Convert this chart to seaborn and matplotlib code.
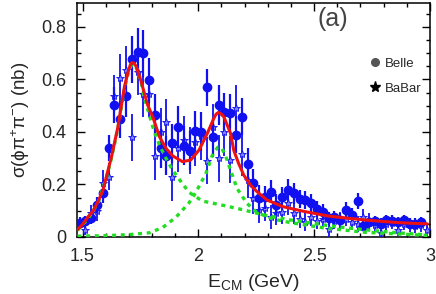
import matplotlib
matplotlib.use('Agg')
import matplotlib.pyplot as plt
import pandas as pd
import seaborn as sns
from matplotlib.lines import Line2D
from matplotlib.ticker import MultipleLocator

# Belle points (25 MeV bins)
belle_x = [1.4875, 1.5125, 1.5375, 1.5625, 1.5875, 1.6125, 1.6375, 1.6625, 1.6875, 1.7125,
           1.7375, 1.7625, 1.7875, 1.8125, 1.8375, 1.8625, 1.8875, 1.9125, 1.9375, 1.9625,
           1.9875, 2.0125, 2.0375, 2.0625, 2.0875, 2.1125, 2.1375, 2.1625, 2.1875, 2.2125,
           2.2375, 2.2625, 2.2875, 2.3125, 2.3375, 2.3625, 2.3875, 2.4125, 2.4375, 2.4625,
           2.4875, 2.5125, 2.5375, 2.5625, 2.5875, 2.6125, 2.6375, 2.6625, 2.6875, 2.7125,
           2.7375, 2.7625, 2.7875, 2.8125, 2.8375, 2.8625, 2.8875, 2.9125, 2.9375, 2.9625]
belle_y = [0.055, 0.060, 0.071, 0.122, 0.166, 0.338, 0.503, 0.448, 0.537, 0.677,
           0.706, 0.700, 0.596, 0.465, 0.338, 0.310, 0.357, 0.420, 0.348, 0.329,
           0.404, 0.401, 0.570, 0.380, 0.503, 0.477, 0.474, 0.389, 0.458, 0.278,
           0.204, 0.147, 0.151, 0.173, 0.122, 0.151, 0.179, 0.166, 0.144, 0.141,
           0.128, 0.107, 0.096, 0.071, 0.075, 0.066, 0.103, 0.084, 0.137, 0.043,
           0.058, 0.061, 0.051, 0.064, 0.062, 0.057, 0.064, 0.051, 0.051, 0.058]
belle_err = [0.020, 0.020, 0.020, 0.030, 0.035, 0.050, 0.070, 0.070, 0.080, 0.090,
             0.090, 0.090, 0.085, 0.080, 0.075, 0.075, 0.075, 0.080, 0.075, 0.075,
             0.075, 0.075, 0.070, 0.075, 0.075, 0.070, 0.070, 0.070, 0.070, 0.060,
             0.055, 0.050, 0.045, 0.045, 0.040, 0.040, 0.040, 0.040, 0.035, 0.035,
             0.035, 0.030, 0.030, 0.025, 0.025, 0.025, 0.030, 0.025, 0.030, 0.020,
             0.020, 0.020, 0.020, 0.020, 0.020, 0.020, 0.020, 0.020, 0.020, 0.020]

# BaBar points
babar_x = [1.5125, 1.5375, 1.5625, 1.5875, 1.6125, 1.6375, 1.6625, 1.6875, 1.7125, 1.7375,
           1.7625, 1.7875, 1.8125, 1.8375, 1.8625, 1.8875, 1.9125, 1.9375, 1.9625, 1.9875,
           2.0125, 2.0375, 2.0625, 2.0875, 2.1125, 2.1375, 2.1625, 2.1875, 2.2125, 2.2375,
           2.2625, 2.2875, 2.3125, 2.3375, 2.3625, 2.3875, 2.4125, 2.4375, 2.4625, 2.4875,
           2.5125, 2.5375, 2.5625, 2.5875, 2.6125, 2.6375, 2.6625, 2.6875, 2.7125, 2.7375,
           2.7625, 2.7875, 2.8125, 2.8375, 2.8625, 2.8875, 2.9125, 2.9375, 2.9625, 2.9875]
babar_y = [0.027, 0.090, 0.100, 0.205, 0.230, 0.535, 0.606, 0.637, 0.379, 0.630,
           0.546, 0.546, 0.308, 0.400, 0.437, 0.227, 0.338, 0.370, 0.330, 0.360,
           0.385, 0.290, 0.418, 0.300, 0.400, 0.295, 0.490, 0.317, 0.218, 0.147,
           0.102, 0.109, 0.076, 0.090, 0.095, 0.128, 0.090, 0.070, 0.058, 0.075,
           0.060, 0.070, 0.030, 0.060, 0.065, 0.070, 0.058, 0.050, 0.077, 0.060,
           0.045, 0.015, 0.050, 0.055, 0.027, 0.050, 0.045, 0.040, 0.045, 0.027]
babar_err = [0.020, 0.030, 0.040, 0.050, 0.050, 0.080, 0.090, 0.090, 0.090, 0.090,
             0.090, 0.090, 0.090, 0.090, 0.090, 0.090, 0.090, 0.090, 0.090, 0.090,
             0.090, 0.090, 0.090, 0.090, 0.090, 0.090, 0.090, 0.085, 0.070, 0.060,
             0.050, 0.050, 0.045, 0.045, 0.045, 0.045, 0.040, 0.035, 0.035, 0.035,
             0.030, 0.030, 0.030, 0.030, 0.030, 0.030, 0.030, 0.030, 0.030, 0.030,
             0.025, 0.025, 0.025, 0.025, 0.025, 0.025, 0.025, 0.025, 0.025, 0.025]

# total fit (red)
fit_x = [1.478, 1.500, 1.524, 1.546, 1.567, 1.589, 1.603, 1.625, 1.653, 1.681, 1.699,
         1.706, 1.713, 1.722, 1.732, 1.753, 1.781, 1.803, 1.832, 1.860, 1.889, 1.931,
         1.967, 2.003, 2.039, 2.067, 2.077, 2.086, 2.097, 2.110, 2.139, 2.153, 2.174,
         2.196, 2.225, 2.253, 2.296, 2.367, 2.453, 2.560, 2.650, 2.718, 2.800, 2.860,
         2.930, 2.989]
fit_y = [0.028, 0.048, 0.077, 0.100, 0.135, 0.180, 0.230, 0.306, 0.420, 0.573, 0.636,
         0.655, 0.664, 0.662, 0.649, 0.592, 0.503, 0.458, 0.382, 0.338, 0.309, 0.287,
         0.293, 0.331, 0.395, 0.452, 0.468, 0.474, 0.470, 0.458, 0.395, 0.330, 0.280,
         0.236, 0.198, 0.173, 0.141, 0.115, 0.098, 0.080, 0.071, 0.065, 0.059, 0.055,
         0.052, 0.050]

# first resonance component (green)
r1_x = [1.478, 1.524, 1.567, 1.603, 1.625, 1.653, 1.681, 1.699, 1.713, 1.732, 1.753,
        1.767, 1.803, 1.832, 1.860, 1.889, 1.917, 1.960, 2.017, 2.110, 2.196, 2.282,
        2.396, 2.539, 2.650, 2.750, 2.860, 2.989]
r1_y = [0.025, 0.070, 0.130, 0.225, 0.300, 0.415, 0.565, 0.630, 0.658, 0.645, 0.590,
        0.530, 0.420, 0.350, 0.300, 0.255, 0.220, 0.170, 0.137, 0.120, 0.103, 0.084,
        0.065, 0.046, 0.034, 0.025, 0.016, 0.008]

# second resonance component (green)
r2_x = [1.478, 1.600, 1.700, 1.789, 1.846, 1.903, 1.960, 1.989, 2.032, 2.060, 2.084,
        2.100, 2.117, 2.139, 2.167, 2.210, 2.253, 2.324, 2.396, 2.539, 2.718, 2.989]
r2_y = [0.003, 0.005, 0.009, 0.016, 0.036, 0.075, 0.130, 0.170, 0.240, 0.310, 0.342,
        0.340, 0.310, 0.255, 0.185, 0.128, 0.093, 0.068, 0.055, 0.035, 0.018, 0.006]

sns.set_theme(style='ticks')
plt.rcParams['font.family'] = ['Liberation Sans', 'DejaVu Sans']
plt.rcParams['mathtext.fontset'] = 'custom'
plt.rcParams['mathtext.rm'] = 'Liberation Sans'
plt.rcParams['mathtext.it'] = 'Liberation Sans'

fig = plt.figure(figsize=(4.36, 2.94), dpi=100)
ax = fig.add_axes([0.1766, 0.1939, 0.8094, 0.7959])

blue = '#1010f0'
green = '#22dd22'

ax.axhline(0.001, color=blue, lw=1.0, ls='--', zorder=1)

ax.errorbar(babar_x, babar_y, yerr=babar_err, fmt='*', ms=6, color=blue,
            mfc='#7f7fff', mec=blue, mew=0.6, elinewidth=1.3, capsize=0, zorder=3)
ax.errorbar(belle_x, belle_y, yerr=belle_err, fmt='o', ms=6, color=blue,
            elinewidth=1.6, capsize=0, zorder=4)

curves = pd.concat([
    pd.DataFrame({'x': r1_x, 'y': r1_y, 'part': 'r1'}),
    pd.DataFrame({'x': r2_x, 'y': r2_y, 'part': 'r2'}),
])
for name, grp in curves.groupby('part'):
    sns.lineplot(data=grp, x='x', y='y', ax=ax, color=green, lw=2.4,
                 linestyle=(0, (1.2, 1.4)), estimator=None, sort=False, zorder=5)
sns.lineplot(x=fit_x, y=fit_y, ax=ax, color='#ee1111', lw=2.2,
             estimator=None, sort=False, zorder=6)

ax.set_xlim(1.476, 2.989)
ax.set_ylim(0, 0.891)
ax.xaxis.set_major_locator(MultipleLocator(0.5))
ax.xaxis.set_minor_locator(MultipleLocator(0.1))
ax.yaxis.set_major_locator(MultipleLocator(0.2))
ax.yaxis.set_minor_locator(MultipleLocator(0.05))
ax.set_xticks([1.5, 2.0, 2.5, 3.0])
ax.set_xticklabels(['1.5', '2', '2.5', '3'])
ax.set_yticks([0, 0.2, 0.4, 0.6, 0.8])
ax.set_yticklabels(['0', '0.2', '0.4', '0.6', '0.8'])
ax.tick_params(which='both', direction='in', top=True, right=True,
               labelsize=13, color='black', width=1.0)
ax.tick_params(axis='x', which='major', length=6, pad=8)
ax.tick_params(axis='y', which='major', length=6, pad=8)
ax.tick_params(which='minor', length=3)
for sp in ax.spines.values():
    sp.set_linewidth(1.1)
    sp.set_color('black')

ax.set_xlabel('E$_{\\mathrm{CM}}$ (GeV)', fontsize=14, labelpad=5)
ax.set_ylabel('σ(ϕπ$^{+}$π$^{-}$) (nb)', fontsize=13.5, labelpad=6)

ax.text(0.726, 0.93, '(a)', transform=ax.transAxes, fontsize=18,
        ha='center', va='center', fontweight='light', color='#444444')

handles = [
    Line2D([], [], marker='o', ls='none', color='#555555', ms=5.5),
    Line2D([], [], marker='*', ls='none', color='black', ms=8),
]
ax.legend(handles, ['Belle', 'BaBar'], loc='upper left', bbox_to_anchor=(0.81, 0.79),
          frameon=False, fontsize=9.5, handletextpad=0.3, labelspacing=1.0,
          handlelength=1.0, borderaxespad=0)

fig.savefig('out.png', dpi=100)
